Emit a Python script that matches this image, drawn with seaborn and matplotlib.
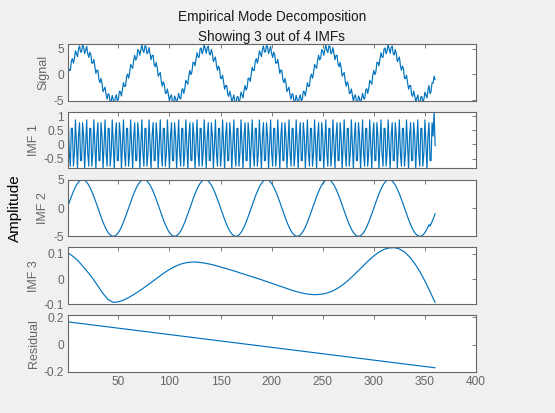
import numpy as np
import matplotlib
matplotlib.use("Agg")
import matplotlib.pyplot as plt
import seaborn as sns

# one cycle (18 samples) of the fast oscillation
imf1_cycle = [0.87, -0.30, -0.77, 0.57, 0.57, -0.77, -0.30, 0.87, 0.00,
              -0.87, 0.30, 0.77, -0.57, -0.57, 0.77, 0.30, -0.87, 0.00]
imf1_end = [1.15, -0.05]

# one period (60 samples) of IMF 2
imf2_period = [0.52, 1.04, 1.55, 2.03, 2.50, 2.94, 3.35, 3.72, 4.05, 4.33,
               4.57, 4.76, 4.89, 4.97, 5.00, 4.97, 4.89, 4.76, 4.57, 4.33,
               4.05, 3.72, 3.35, 2.94, 2.50, 2.03, 1.55, 1.04, 0.52, 0.00,
               -0.52, -1.04, -1.55, -2.03, -2.50, -2.94, -3.35, -3.72, -4.05, -4.33,
               -4.57, -4.76, -4.89, -4.97, -5.00, -4.97, -4.89, -4.76, -4.57, -4.33,
               -4.05, -3.72, -3.35, -2.94, -2.50, -2.03, -1.55, -1.04, -0.52, 0.00]
imf2_end = [-3.2, -2.8, -2.4, -2.0, -1.5, -1.0]

# IMF 3 read every 5 samples (0, 5, ..., 360)
imf3_values = [0.106, 0.092, 0.075, 0.052, 0.028, 0.002, -0.028, -0.058, -0.082, -0.093,
               -0.091, -0.084, -0.074, -0.062, -0.049, -0.035, -0.020, -0.005, 0.010, 0.025,
               0.038, 0.049, 0.058, 0.064, 0.067, 0.068, 0.066, 0.063, 0.059, 0.054,
               0.048, 0.042, 0.036, 0.030, 0.023, 0.017, 0.010, 0.004, -0.003, -0.010,
               -0.017, -0.024, -0.031, -0.038, -0.045, -0.051, -0.056, -0.060, -0.062, -0.062,
               -0.060, -0.055, -0.047, -0.036, -0.022, -0.005, 0.014, 0.034, 0.054, 0.074,
               0.092, 0.107, 0.118, 0.124, 0.125, 0.120, 0.108, 0.088, 0.062, 0.030,
               -0.008, -0.050, -0.094]

residual_samples = [1, 360]
residual_values = [0.166, -0.170]

n_samples = 360
xticks = [50, 100, 150, 200, 250, 300, 350, 400]
xtick_labels = ["50", "100", "150", "200", "250", "300", "350", "400"]

panel_labels = ["Signal", "IMF 1", "IMF 2", "IMF 3", "Residual"]
panel_yticks = [[-5, 0, 5], [-0.5, 0, 0.5, 1], [-5, 0, 5], [-0.1, 0, 0.1], [-0.2, 0, 0.2]]
panel_ytick_labels = [["-5", "0", "5"], ["-0.5", "0", "0.5", "1"], ["-5", "0", "5"],
                      ["-0.1", "0", "0.1"], ["-0.2", "0", "0.2"]]
panel_ylims = [(-5.13, 5.9), (-0.85, 1.155), (-5.0, 5.02), (-0.094, 0.126), (-0.2, 0.215)]

samples = np.arange(1, n_samples + 1)
imf1 = np.tile(imf1_cycle, n_samples // len(imf1_cycle)).astype(float)
imf1[-len(imf1_end):] = imf1_end
imf2 = np.tile(imf2_period, n_samples // len(imf2_period)).astype(float)
imf2[-len(imf2_end):] = imf2_end
signal = imf1 + imf2
imf3_samples = np.arange(0, n_samples + 1, 5)

series = [(samples, signal), (samples, imf1), (samples, imf2),
          (imf3_samples, np.array(imf3_values)),
          (np.array(residual_samples), np.array(residual_values))]

sns.set_theme(style="white")
plt.rcParams["font.family"] = ["Liberation Sans", "DejaVu Sans"]

line_color = "#0072BD"
axis_gray = "#666666"

fig = plt.figure(figsize=(5.55, 4.13), dpi=100, facecolor="#f0f0f0")
W, H = 555, 413
left, right = 68.3, 476
top0, step, height = 44, 67.8, 56.7

for i, (x, y) in enumerate(series):
    top = top0 + i * step
    ax = fig.add_axes([left / W, 1 - (top + height) / H, (right - left) / W, height / H])
    ax.set_facecolor("white")
    sns.lineplot(x=x, y=y, ax=ax, color=line_color, linewidth=0.85)
    ax.set_xlim(1, 400)
    ax.set_ylim(*panel_ylims[i])
    ax.set_xticks(xticks)
    ax.set_yticks(panel_yticks[i])
    ax.set_yticklabels(panel_ytick_labels[i])
    if i == len(series) - 1:
        ax.set_xticklabels(xtick_labels)
    else:
        ax.set_xticklabels([])
    ax.tick_params(direction="in", top=True, right=True, length=3, width=0.6,
                   colors=axis_gray, labelsize=8.6, pad=3)
    ax.set_ylabel(panel_labels[i], color=axis_gray, fontsize=9, labelpad=3)
    for sp in ax.spines.values():
        sp.set_color(axis_gray)
        sp.set_linewidth(0.8)

fig.text(272 / W, 1 - 17 / H, "Empirical Mode Decomposition", ha="center", va="center",
         fontsize=9.8, color="#1a1a1a")
fig.text(272 / W, 1 - 37 / H, "Showing 3 out of 4 IMFs", ha="center", va="center",
         fontsize=9.8, color="#1a1a1a")
fig.text(15 / W, 1 - 208 / H, "Amplitude", rotation=90, ha="center", va="center",
         fontsize=11, color="black")

fig.savefig("out.png", dpi=100, facecolor=fig.get_facecolor())
